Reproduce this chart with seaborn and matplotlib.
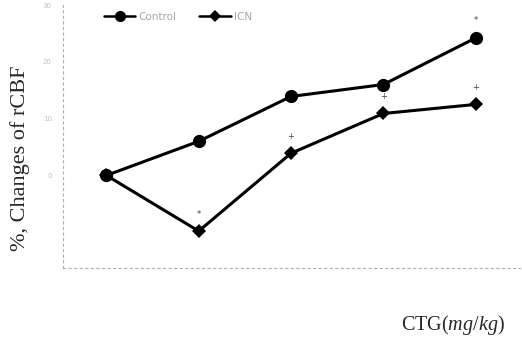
import numpy as np
import pandas as pd
import matplotlib
matplotlib.use("Agg")
import matplotlib.pyplot as plt
import seaborn as sns

# Dose steps of CTG and % change of rCBF for the two groups
doses = ["0", "1", "2", "3", "4"]
control = [0.0, 6.0, 13.9, 16.0, 24.2]
icn = [0.0, -9.8, 3.9, 10.9, 12.5]
y_ticks = [0, 10, 20, 30]
y_tick_labels = ["0", "10", "20", "30"]
# significance marks: (series, dose index, symbol)
marks = [("Control", 4, "*"), ("ICN", 1, "*"), ("ICN", 2, "+"),
         ("ICN", 3, "+"), ("ICN", 4, "+")]

df = pd.DataFrame({
    "dose": list(range(len(doses))) * 2,
    "change": control + icn,
    "group": ["Control"] * len(doses) + ["ICN"] * len(doses),
})

sns.set_style("white")
plt.rcParams["mathtext.fontset"] = "custom"
plt.rcParams["mathtext.rm"] = "Liberation Serif"
plt.rcParams["mathtext.it"] = "Liberation Serif:italic"

fig = plt.figure(figsize=(5.22, 3.43), dpi=100)
ax = fig.add_axes([63 / 522, 1 - 268 / 343, (520 - 63) / 522, (268 - 5) / 343])

sns.lineplot(data=df, x="dose", y="change", hue="group", style="group",
             markers={"Control": "o", "ICN": "D"}, dashes=False,
             palette={"Control": "black", "ICN": "black"},
             linewidth=2.2, markeredgewidth=0, ax=ax, legend=False)
for line, ms in zip(ax.lines, [9.5, 7.5]):
    line.set_markersize(ms)

ax.set_xlim(-0.47, 4.48)
ax.set_ylim(-16.3, 29.8)
ax.set_xticks([])
ax.set_yticks(y_ticks)
ax.set_yticklabels(y_tick_labels, fontsize=5, color="#c0c0c0")
ax.tick_params(axis="y", length=2, color="#b8b8b8", pad=6)

for side in ["top", "right"]:
    ax.spines[side].set_visible(False)
for side in ["left", "bottom"]:
    ax.spines[side].set_linestyle((0, (2, 3)))
    ax.spines[side].set_color("#b0b0b0")
    ax.spines[side].set_linewidth(0.8)

vals = {"Control": control, "ICN": icn}
for grp, i, sym in marks:
    ax.annotate(sym, (i, vals[grp][i]), xytext=(0, 9), textcoords="offset points",
                ha="center", va="bottom", fontsize=6, color="#444444")

ax.set_xlabel("")
ax.set_ylabel("")
fig.text(20 / 522, 1 - 158 / 343, "%, Changes of rCBF", rotation=90,
         ha="center", va="center", family="Liberation Serif", fontsize=16)

fig.text(505 / 522, 1 - 325 / 343, r"CTG($\mathit{mg/kg}$)", ha="right", va="center",
         family="Liberation Serif", fontsize=14.5)

handles = [
    plt.Line2D([], [], color="black", marker="o", markersize=8, lw=1.8, markeredgewidth=0),
    plt.Line2D([], [], color="black", marker="D", markersize=6, lw=1.8, markeredgewidth=0),
]
leg = ax.legend(handles, ["Control", "ICN"], ncol=2, frameon=False,
                loc="center left", bbox_to_anchor=((100 - 63) / 457, 1 - 12 / 263),
                fontsize=7.5, handlelength=3, columnspacing=2.2, handletextpad=0.3,
                borderaxespad=0)
for t in leg.get_texts():
    t.set_color("#a8a8a8")

fig.savefig("out.png", dpi=100)
